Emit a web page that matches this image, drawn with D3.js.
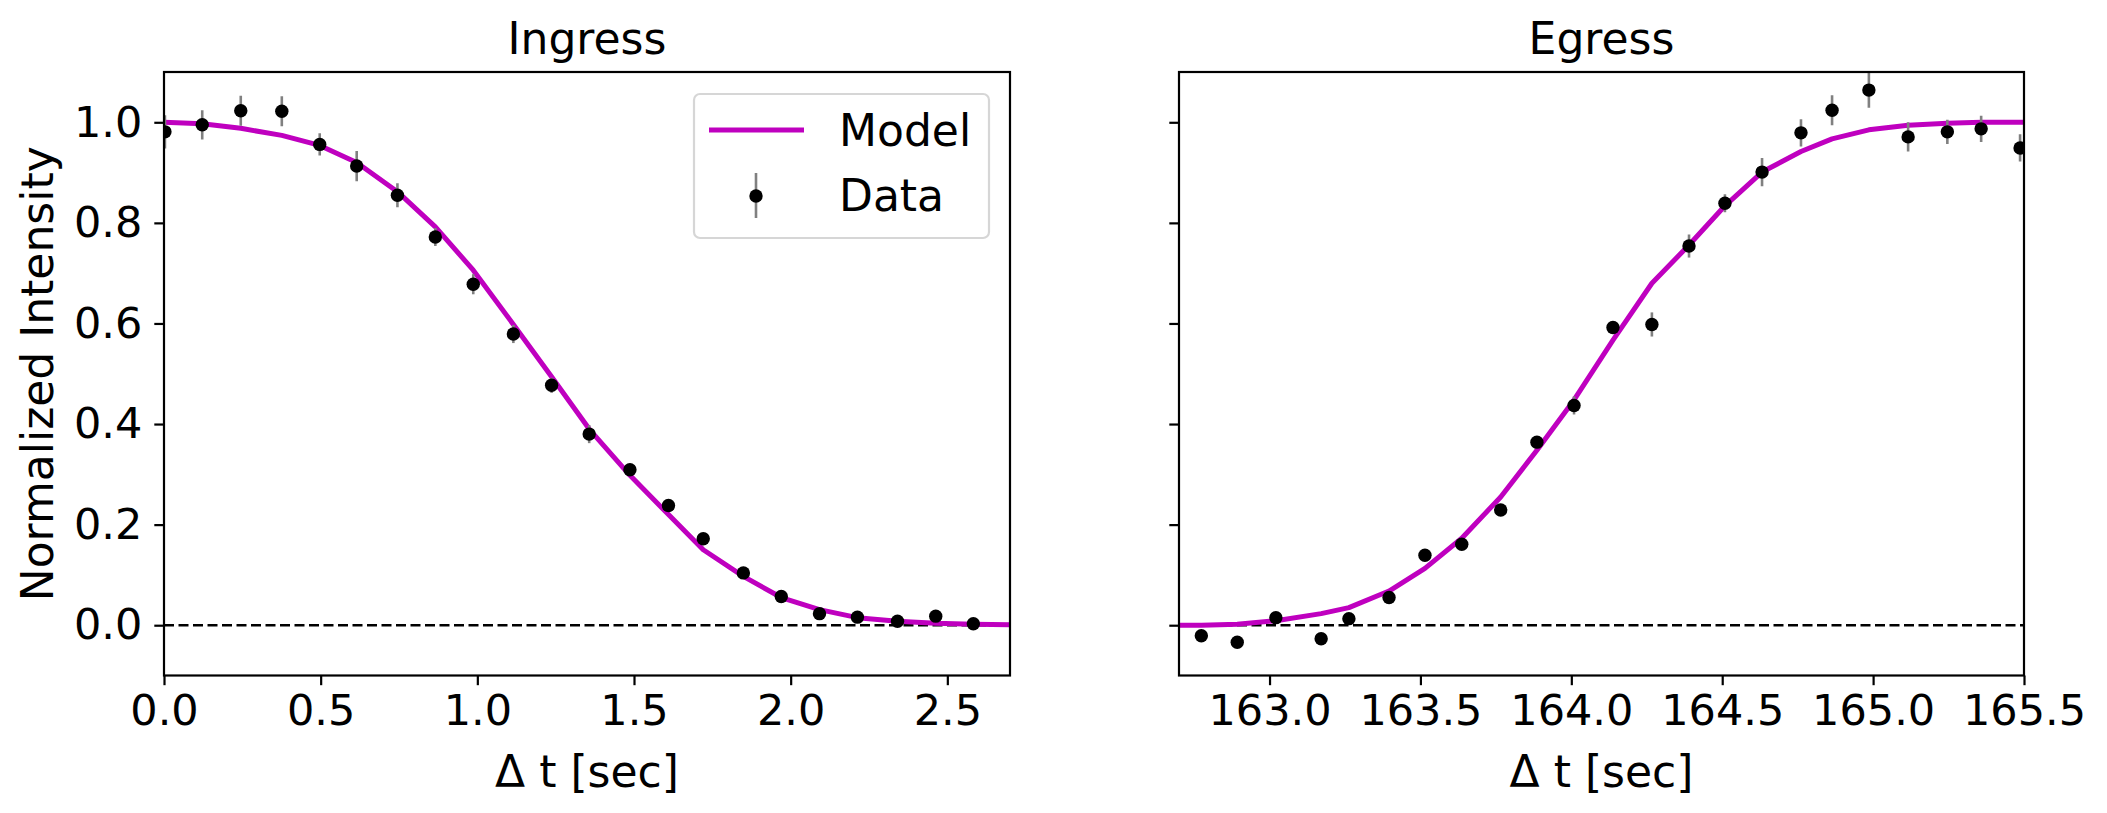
<!DOCTYPE html>
<html>
<head>
<meta charset="utf-8">
<script src="https://cdn.jsdelivr.net/npm/d3@7"></script>
<style>
  body { margin: 0; background: #fff; }
  text { font-family: 'DejaVu Sans', sans-serif; fill: #000; }
</style>
</head>
<body>
<div id="chart"></div>
<script>
// ingress data points
const ingressTime = [0.003, 0.122, 0.245, 0.376, 0.497, 0.615, 0.745, 0.866, 0.987, 1.115, 1.237, 1.357, 1.487, 1.610, 1.721, 1.849, 1.970, 2.092, 2.213, 2.341, 2.463, 2.583]
const ingressFlux = [0.981, 0.995, 1.023, 1.022, 0.956, 0.913, 0.855, 0.772, 0.678, 0.579, 0.477, 0.380, 0.309, 0.238, 0.172, 0.104, 0.057, 0.023, 0.016, 0.008, 0.018, 0.003]
const ingressErr = [0.033, 0.029, 0.030, 0.030, 0.022, 0.030, 0.024, 0.018, 0.020, 0.018, 0.015, 0.018, 0.012, 0.010, 0.008, 0.008, 0.006, 0.006, 0.005, 0.005, 0.005, 0.004]

// ingress model
const ingressModelTime = [0.000, 0.122, 0.245, 0.376, 0.497, 0.615, 0.745, 0.866, 0.987, 1.115, 1.237, 1.357, 1.487, 1.610, 1.721, 1.849, 1.970, 2.092, 2.213, 2.341, 2.463, 2.583, 2.706]
const ingressModelFlux = [1.000, 0.997, 0.988, 0.974, 0.954, 0.920, 0.862, 0.792, 0.706, 0.598, 0.494, 0.390, 0.298, 0.220, 0.150, 0.097, 0.055, 0.031, 0.015, 0.008, 0.004, 0.002, 0.001]

// egress data points
const egressTime = [162.774, 162.893, 163.021, 163.171, 163.263, 163.396, 163.515, 163.637, 163.766, 163.886, 164.009, 164.138, 164.267, 164.390, 164.509, 164.632, 164.761, 164.864, 164.986, 165.116, 165.246, 165.358, 165.487]
const egressFlux = [-0.021, -0.034, 0.015, -0.027, 0.013, 0.055, 0.139, 0.161, 0.229, 0.364, 0.437, 0.592, 0.598, 0.754, 0.839, 0.901, 0.979, 1.024, 1.064, 0.971, 0.981, 0.987, 0.949]
const egressErr = [0.006, 0.006, 0.006, 0.006, 0.006, 0.007, 0.008, 0.008, 0.009, 0.012, 0.018, 0.010, 0.024, 0.023, 0.018, 0.028, 0.027, 0.030, 0.035, 0.029, 0.024, 0.026, 0.027]

// egress model
const egressModelTime = [162.650, 162.774, 162.893, 163.021, 163.171, 163.263, 163.396, 163.515, 163.637, 163.766, 163.886, 164.009, 164.138, 164.267, 164.390, 164.509, 164.632, 164.761, 164.864, 164.986, 165.116, 165.246, 165.358, 165.487, 165.610]
const egressModelFlux = [0.000, 0.000, 0.002, 0.009, 0.023, 0.035, 0.068, 0.113, 0.173, 0.255, 0.348, 0.448, 0.567, 0.680, 0.756, 0.834, 0.901, 0.942, 0.967, 0.985, 0.994, 0.998, 1.000, 1.000, 1.000]

const yTicks = [0.0, 0.2, 0.4, 0.6, 0.8, 1.0]
const ingressTicks = [0.0, 0.5, 1.0, 1.5, 2.0, 2.5]
const egressTicks = [163.0, 163.5, 164.0, 164.5, 165.0, 165.5]

const W = 2107
const H = 813
const plotTop = 72
const plotBottom = 675.5
const fontSize = 43

const svg = d3
  .select('#chart')
  .append('svg')
  .attr('width', W)
  .attr('height', H)

const yPositionScale = d3.scaleLinear().domain([-0.1, 1.1]).range([plotBottom, plotTop])

function drawPanel(opts) {
  const x = d3.scaleLinear().domain(opts.xDomain).range([opts.left, opts.right])
  const g = svg.append('g')

  g.append('clipPath')
    .attr('id', opts.id + '-clip')
    .append('rect')
    .attr('x', opts.left)
    .attr('y', plotTop)
    .attr('width', opts.right - opts.left)
    .attr('height', plotBottom - plotTop)

  const plot = g.append('g').attr('clip-path', 'url(#' + opts.id + '-clip)')

  // zero line
  plot.append('line')
    .attr('x1', opts.left)
    .attr('x2', opts.right)
    .attr('y1', yPositionScale(0))
    .attr('y2', yPositionScale(0))
    .attr('stroke', '#000')
    .attr('stroke-width', 2.6)
    .attr('stroke-dasharray', '10,4.5')

  // model line
  const modelPoints = opts.modelTime.map((t, i) => [t, opts.modelFlux[i]])
  const line = d3.line().x(d => x(d[0])).y(d => yPositionScale(d[1]))
  plot.append('path')
    .datum(modelPoints)
    .attr('d', line)
    .attr('fill', 'none')
    .attr('stroke', '#bf00bf')
    .attr('stroke-width', 5)
    .attr('stroke-linejoin', 'round')

  // error bars and dots
  const pts = opts.time.map((t, i) => ({ t: t, f: opts.flux[i], e: opts.err[i] }))
  plot.selectAll('.errbar')
    .data(pts)
    .enter()
    .append('line')
    .attr('class', 'errbar')
    .attr('x1', d => x(d.t))
    .attr('x2', d => x(d.t))
    .attr('y1', d => yPositionScale(d.f - d.e))
    .attr('y2', d => yPositionScale(d.f + d.e))
    .attr('stroke', '#808080')
    .attr('stroke-width', 2.6)

  plot.selectAll('.point')
    .data(pts)
    .enter()
    .append('circle')
    .attr('class', 'point')
    .attr('cx', d => x(d.t))
    .attr('cy', d => yPositionScale(d.f))
    .attr('r', 6.7)
    .attr('fill', '#000')

  // axes
  const xAxis = d3.axisBottom(x)
    .tickValues(opts.ticks)
    .tickFormat(d3.format('.1f'))
    .tickSize(9.7)
    .tickSizeOuter(0)
    .tickPadding(9)
  g.append('g')
    .attr('class', 'axis x-axis')
    .attr('transform', 'translate(0,' + plotBottom + ')')
    .call(xAxis)

  const yAxis = d3.axisLeft(yPositionScale)
    .tickValues(yTicks)
    .tickFormat(opts.yLabels ? d3.format('.1f') : '')
    .tickSize(9.7)
    .tickSizeOuter(0)
    .tickPadding(12)
  g.append('g')
    .attr('class', 'axis y-axis')
    .attr('transform', 'translate(' + opts.left + ',0)')
    .call(yAxis)

  g.selectAll('.axis .domain').remove()
  g.selectAll('.axis line').attr('stroke', '#000').attr('stroke-width', 2.2)
  g.selectAll('.axis text')
    .attr('font-size', fontSize)
    .attr('font-family', "'DejaVu Sans', sans-serif")
    .attr('fill', '#000')

  // frame
  g.append('rect')
    .attr('x', opts.left)
    .attr('y', plotTop)
    .attr('width', opts.right - opts.left)
    .attr('height', plotBottom - plotTop)
    .attr('fill', 'none')
    .attr('stroke', '#000')
    .attr('stroke-width', 2.2)

  const mid = (opts.left + opts.right) / 2
  g.append('text')
    .attr('x', mid)
    .attr('y', 54)
    .attr('text-anchor', 'middle')
    .attr('font-size', 44)
    .text(opts.title)

  g.append('text')
    .attr('x', mid)
    .attr('y', 787)
    .attr('text-anchor', 'middle')
    .attr('font-size', 44)
    .text('\u0394 t [sec]')

  return x
}

drawPanel({
  id: 'ingress',
  left: 164,
  right: 1010,
  xDomain: [0, 2.7],
  ticks: ingressTicks,
  time: ingressTime,
  flux: ingressFlux,
  err: ingressErr,
  modelTime: ingressModelTime,
  modelFlux: ingressModelFlux,
  title: 'Ingress',
  yLabels: true
})

drawPanel({
  id: 'egress',
  left: 1179,
  right: 2024,
  xDomain: [162.7, 165.5],
  ticks: egressTicks,
  time: egressTime,
  flux: egressFlux,
  err: egressErr,
  modelTime: egressModelTime,
  modelFlux: egressModelFlux,
  title: 'Egress',
  yLabels: false
})

// y label
svg.append('text')
  .attr('transform', 'translate(53,' + (plotTop + plotBottom) / 2 + ') rotate(-90)')
  .attr('text-anchor', 'middle')
  .attr('font-size', 44)
  .text('Normalized Intensity')

// legend
const legend = svg.append('g')
legend.append('rect')
  .attr('x', 694)
  .attr('y', 94)
  .attr('width', 295)
  .attr('height', 144)
  .attr('rx', 6)
  .attr('fill', 'rgba(255,255,255,0.8)')
  .attr('stroke', '#d6d6d6')
  .attr('stroke-width', 2.2)

legend.append('line')
  .attr('x1', 709)
  .attr('x2', 804)
  .attr('y1', 130)
  .attr('y2', 130)
  .attr('stroke', '#bf00bf')
  .attr('stroke-width', 5)

legend.append('text')
  .attr('x', 839)
  .attr('y', 146)
  .attr('font-size', 44)
  .text('Model')

legend.append('line')
  .attr('x1', 756)
  .attr('x2', 756)
  .attr('y1', 173)
  .attr('y2', 218)
  .attr('stroke', '#808080')
  .attr('stroke-width', 2.6)

legend.append('circle')
  .attr('cx', 756)
  .attr('cy', 196)
  .attr('r', 6.7)
  .attr('fill', '#000')

legend.append('text')
  .attr('x', 839)
  .attr('y', 211)
  .attr('font-size', 44)
  .text('Data')
</script>
</body>
</html>
